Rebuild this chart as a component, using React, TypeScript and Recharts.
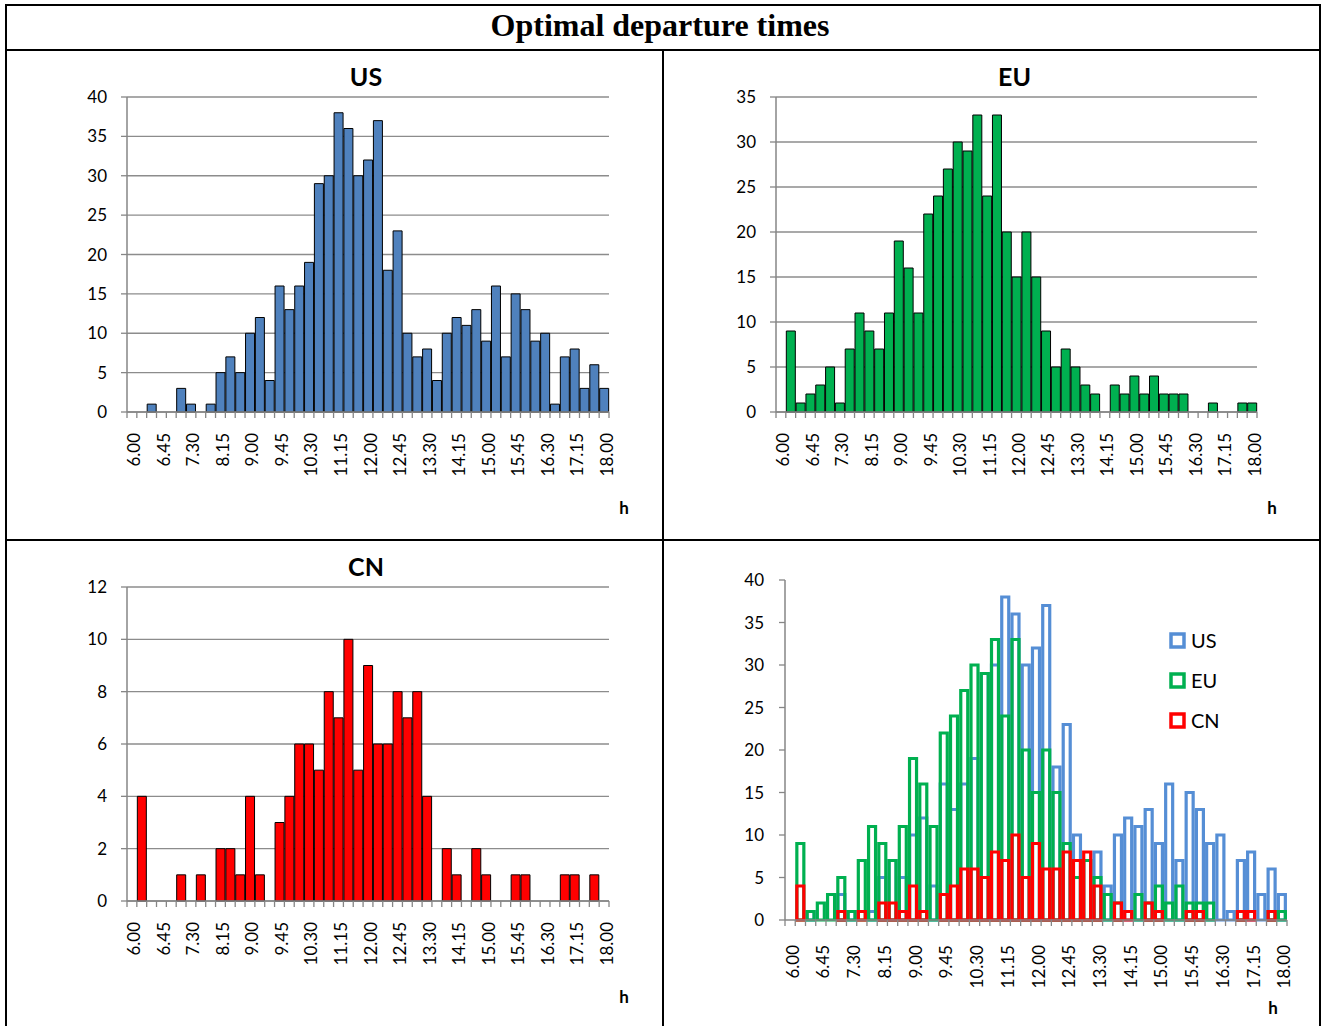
import { BarChart, Bar, XAxis, YAxis, CartesianGrid, Legend } from 'recharts'

// quarter-hour bins, 6.00 .. 18.00
const TIMES = [
  '6.00', '6.15', '6.30', '6.45', '7.00', '7.15', '7.30', '7.45',
  '8.00', '8.15', '8.30', '8.45', '9.00', '9.15', '9.30', '9.45',
  '10.00', '10.15', '10.30', '10.45', '11.00', '11.15', '11.30', '11.45',
  '12.00', '12.15', '12.30', '12.45', '13.00', '13.15', '13.30', '13.45',
  '14.00', '14.15', '14.30', '14.45', '15.00', '15.15', '15.30', '15.45',
  '16.00', '16.15', '16.30', '16.45', '17.00', '17.15', '17.30', '17.45',
  '18.00',
]

// only every third bin gets a label
const SHOWN_TIMES = [
  '6.00', '6.45', '7.30', '8.15', '9.00', '9.45', '10.30', '11.15', '12.00',
  '12.45', '13.30', '14.15', '15.00', '15.45', '16.30', '17.15', '18.00',
]

const US = [
  0, 0, 1, 0, 0, 3, 1, 0, 1, 5, 7, 5, 10, 12, 4, 16, 13, 16, 19, 29, 30, 38, 36, 30, 32,
  37, 18, 23, 10, 7, 8, 4, 10, 12, 11, 13, 9, 16, 7, 15, 13, 9, 10, 1, 7, 8, 3, 6, 3,
]
const EU = [
  0, 9, 1, 2, 3, 5, 1, 7, 11, 9, 7, 11, 19, 16, 11, 22, 24, 27, 30, 29, 33, 24, 33, 20, 15,
  20, 15, 9, 5, 7, 5, 3, 2, 0, 3, 2, 4, 2, 4, 2, 2, 2, 0, 0, 1, 0, 0, 1, 1,
]
const CN = [
  0, 4, 0, 0, 0, 1, 0, 1, 0, 2, 2, 1, 4, 1, 0, 3, 4, 6, 6, 5, 8, 7, 10, 5, 9,
  6, 6, 8, 7, 8, 4, 0, 2, 1, 0, 2, 1, 0, 0, 1, 1, 0, 0, 0, 1, 1, 0, 1, 0,
]

const US_TICKS = [0, 5, 10, 15, 20, 25, 30, 35, 40]
const EU_TICKS = [0, 5, 10, 15, 20, 25, 30, 35]
const CN_TICKS = [0, 2, 4, 6, 8, 10, 12]
const ALL_TICKS = [0, 5, 10, 15, 20, 25, 30, 35, 40]

const SERIES = ['US', 'EU', 'CN']

const rows = TIMES.map((time, i) => ({ time, US: US[i], EU: EU[i], CN: CN[i] }))

const FONT = 'Lato, "Open Sans", sans-serif'
const AXIS = '#868686'
const GRID = '#8c8c8c'
const FILLS: Record<string, string> = { US: '#4f81bd', EU: '#00b050', CN: '#ff0000' }
const OUTLINES: Record<string, string> = { US: '#558ed5', EU: '#00b050', CN: '#ff0000' }

// space around the plot area inside each chart
const PAD_L = 70
const PAD_T = 20
const PAD_R = 24
const PAD_B = 100

type Box = { x: number; y: number; w: number; h: number }

function TimeTick(props: any) {
  const { x, y, payload, index, band, gap } = props
  const half = band / 2
  const ly = y + gap
  return (
    <g>
      <line x1={x - half} x2={x - half} y1={y} y2={y + 6} stroke={AXIS} strokeWidth={1.3} />
      {index === TIMES.length - 1 && (
        <line x1={x + half} x2={x + half} y1={y} y2={y + 6} stroke={AXIS} strokeWidth={1.3} />
      )}
      {SHOWN_TIMES.includes(payload.value) && (
        <text
          x={x}
          y={ly}
          dy={2}
          transform={`rotate(-90 ${x} ${ly})`}
          textAnchor="end"
          dominantBaseline="central"
          fontSize={17}
          fontFamily={FONT}
          fill="#000"
        >
          {payload.value}
        </text>
      )}
    </g>
  )
}

function Caption({ cx, cy, size, children }: { cx: number; cy: number; size: number; children: string }) {
  return (
    <div
      style={{
        position: 'absolute',
        left: cx - 100,
        top: cy - 20,
        width: 200,
        height: 40,
        lineHeight: '40px',
        textAlign: 'center',
        fontFamily: FONT,
        fontWeight: 700,
        fontSize: size,
        color: '#000',
      }}
    >
      {children}
    </div>
  )
}

function Histogram({ title, series, ticks, box, gap }: { title: string; series: string; ticks: number[]; box: Box; gap: number }) {
  const band = box.w / TIMES.length
  return (
    <>
      <div style={{ position: 'absolute', left: box.x - PAD_L, top: box.y - PAD_T }}>
        <BarChart
          width={box.w + PAD_L + PAD_R}
          height={box.h + PAD_T + PAD_B}
          data={rows}
          margin={{ top: PAD_T, right: PAD_R, bottom: 0, left: 0 }}
          barCategoryGap={0.5}
        >
          <CartesianGrid vertical={false} stroke={GRID} strokeWidth={1.3} />
          <XAxis
            dataKey="time"
            interval={0}
            height={PAD_B}
            tickLine={false}
            tickSize={0}
            tickMargin={0}
            axisLine={{ stroke: AXIS, strokeWidth: 1.5 }}
            tick={(p: any) => <TimeTick {...p} band={band} gap={gap} />}
          />
          <YAxis
            width={PAD_L}
            domain={[0, ticks[ticks.length - 1]]}
            ticks={ticks}
            interval={0}
            tickSize={6}
            tickMargin={14}
            tickLine={{ stroke: AXIS, strokeWidth: 1.3 }}
            axisLine={{ stroke: AXIS, strokeWidth: 1.5 }}
            tick={{ fill: '#000', fontSize: 17, fontFamily: FONT }}
          />
          <Bar dataKey={series} fill={FILLS[series]} stroke="#000" strokeWidth={1} isAnimationActive={false} />
        </BarChart>
      </div>
      <Caption cx={box.x + box.w / 2 - 2} cy={box.y - 21} size={25}>{title}</Caption>
      <Caption cx={box.x + box.w + 15} cy={box.y + box.h + 96} size={17}>h</Caption>
    </>
  )
}

function LegendBox({ payload }: any) {
  const items = [...(payload ?? [])].sort((a: any, b: any) => SERIES.indexOf(a.value) - SERIES.indexOf(b.value))
  return (
    <div style={{ fontFamily: FONT, fontSize: 20, color: '#000' }}>
      {items.map((entry: any) => (
        <div key={entry.value} style={{ display: 'flex', alignItems: 'center', height: 40 }}>
          <svg width={17} height={17} style={{ marginRight: 5 }}>
            <rect x={2} y={2} width={13} height={13} fill="#fff" stroke={OUTLINES[entry.value]} strokeWidth={3.5} />
          </svg>
          <span>{entry.value}</span>
        </div>
      ))}
    </div>
  )
}

function Overlay({ box }: { box: Box }) {
  const band = box.w / TIMES.length
  return (
    <>
      <div style={{ position: 'absolute', left: box.x - PAD_L, top: box.y - PAD_T }}>
        <BarChart
          width={box.w + PAD_L + PAD_R}
          height={box.h + PAD_T + PAD_B}
          data={rows}
          margin={{ top: PAD_T, right: PAD_R, bottom: 0, left: 0 }}
          barCategoryGap={1.6}
        >
          <XAxis
            xAxisId="US"
            dataKey="time"
            interval={0}
            height={PAD_B}
            tickLine={false}
            tickSize={0}
            tickMargin={0}
            axisLine={{ stroke: AXIS, strokeWidth: 1.5 }}
            tick={(p: any) => <TimeTick {...p} band={band} gap={25} />}
          />
          {/* each series gets its own band so the outlines sit on top of each other */}
          <XAxis xAxisId="EU" dataKey="time" hide height={0} />
          <XAxis xAxisId="CN" dataKey="time" hide height={0} />
          <YAxis
            width={PAD_L}
            domain={[0, 40]}
            ticks={ALL_TICKS}
            interval={0}
            tickSize={6}
            tickMargin={15}
            tickLine={{ stroke: AXIS, strokeWidth: 1.3 }}
            axisLine={{ stroke: AXIS, strokeWidth: 1.5 }}
            tick={{ fill: '#000', fontSize: 17, fontFamily: FONT }}
          />
          <Legend
            layout="vertical"
            align="center"
            verticalAlign="middle"
            content={(p: any) => <LegendBox {...p} />}
            wrapperStyle={{ left: 454, top: 60, width: 80, height: 120 }}
          />
          {SERIES.map((s) => (
            <Bar
              key={s}
              xAxisId={s}
              dataKey={s}
              fill="none"
              stroke={OUTLINES[s]}
              strokeWidth={3.2}
              isAnimationActive={false}
            />
          ))}
        </BarChart>
      </div>
      <Caption cx={box.x + box.w - 14} cy={box.y + box.h + 88} size={17}>h</Caption>
    </>
  )
}

export default function App() {
  const line = '#000'
  return (
    <div style={{ position: 'absolute', left: 0, top: 0, width: 1322, height: 1026, overflow: 'hidden', background: '#fff' }}>
      <div style={{ position: 'absolute', left: 5, top: 4, width: 1316, height: 1040, border: `2px solid ${line}`, boxSizing: 'border-box' }} />
      <div style={{ position: 'absolute', left: 5, top: 49, width: 1316, height: 2, background: line }} />
      <div style={{ position: 'absolute', left: 662, top: 50, width: 2, height: 990, background: line }} />
      <div style={{ position: 'absolute', left: 5, top: 539, width: 1316, height: 2, background: line }} />
      <div
        style={{
          position: 'absolute',
          left: 5,
          top: 3,
          width: 1310,
          height: 44,
          lineHeight: '44px',
          textAlign: 'center',
          fontFamily: '"Liberation Serif", "Times New Roman", serif',
          fontWeight: 700,
          fontSize: 32,
          color: '#000',
        }}
      >
        Optimal departure times
      </div>

      <Histogram title="US" series="US" ticks={US_TICKS} box={{ x: 127, y: 97, w: 482, h: 315 }} gap={21} />
      <Histogram title="EU" series="EU" ticks={EU_TICKS} box={{ x: 776, y: 97, w: 481, h: 315 }} gap={21} />
      <Histogram title="CN" series="CN" ticks={CN_TICKS} box={{ x: 127, y: 587, w: 482, h: 314 }} gap={21} />
      <Overlay box={{ x: 785, y: 580, w: 502, h: 340 }} />
    </div>
  )
}
